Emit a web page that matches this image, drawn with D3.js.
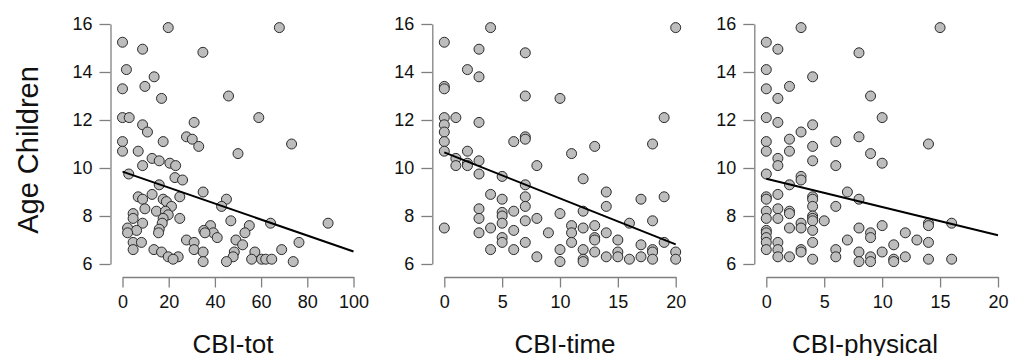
<!DOCTYPE html>
<html>
<head>
<meta charset="utf-8">
<script src="https://cdn.jsdelivr.net/npm/d3@7"></script>
<style>
  body { margin: 0; background: #fff; }
  svg text { font-family: "Liberation Sans", Arial, Helvetica, sans-serif; fill: #111; }
</style>
</head>
<body>
<div id="chart-holder"></div>
<script>
// y ticks shared by all panels
var yTicks = [6, 8, 10, 12, 14, 16];

// CBI-tot panel
var totX = [19.8, 67.9, 0, 8.7, 34.8, 1.7, 13.7, 9.7, 0, 45.9, 16.9, 0, 2.9, 59, 31, 8.7, 10.8, 27.7, 30.2, 17.6,
  0, 33, 73.2, 0, 6.8, 50, 12.8, 15.9, 20.5, 23, 8.7, 2.7, 22.7, 26, 15.9, 34.9, 12.8, 6.8, 24.8, 45,
  8.7, 17.6, 19, 42.9, 21.2, 9.7, 14.7, 18.6, 4.6, 19.8, 17.6, 4.6, 24.8, 46.9, 64.1, 89, 8.7, 17.2, 38.1, 54.9,
  2.2, 15.9, 35.2, 6.1, 39.3, 53, 2.2, 15.6, 35.7, 41, 49.1, 27.7, 31, 76.4, 4.6, 8.2, 52, 31, 68.9, 4.6,
  13.6, 34.9, 48.4, 57.3, 16.9, 19.8, 24.1, 47.9, 21.9, 55.9, 60.2, 62, 64.6, 34.9, 45, 73.9];
var totY = [15.85, 15.85, 15.24, 14.95, 14.82, 14.1, 13.8, 13.4, 13.3, 13.0, 12.9, 12.1, 12.1, 12.1, 11.9, 11.8, 11.5, 11.3, 11.2, 11.1,
  11.1, 10.9, 11.0, 10.7, 10.7, 10.6, 10.4, 10.3, 10.2, 10.1, 10.1, 9.75, 9.6, 9.5, 9.3, 9.0, 8.9, 8.8, 8.8, 8.7,
  8.7, 8.7, 8.6, 8.4, 8.4, 8.3, 8.2, 8.2, 8.1, 8.05, 7.9, 7.9, 7.9, 7.8, 7.7, 7.7, 7.7, 7.7, 7.6, 7.6,
  7.5, 7.45, 7.4, 7.4, 7.3, 7.3, 7.3, 7.3, 7.3, 7.1, 7.0, 7.0, 6.9, 6.9, 6.9, 6.9, 6.8, 6.6, 6.6, 6.6,
  6.6, 6.5, 6.5, 6.5, 6.5, 6.3, 6.3, 6.3, 6.2, 6.2, 6.2, 6.2, 6.2, 6.1, 6.1, 6.1];

// CBI-time panel
var timeX = [4, 20, 0, 3, 7, 2, 3, 0, 0, 7, 10, 0, 1, 19, 3, 0, 0, 7, 7, 6,
  0, 13, 18, 0, 2, 11, 1, 3, 2, 8, 1, 2, 3, 5, 12, 7, 14, 4, 19, 7,
  17, 5, 14, 7, 3, 6, 12, 5, 10, 5, 3, 8, 18, 7, 16, 5, 11, 13, 0, 4,
  12, 6, 3, 9, 11, 14, 13, 5, 13, 15, 5, 7, 11, 19, 17, 18, 4, 6, 10, 12,
  20, 13, 15, 18, 8, 14, 15, 17, 12, 16, 18, 20, 10, 12];
var timeY = [15.85, 15.85, 15.24, 14.95, 14.8, 14.1, 13.8, 13.4, 13.3, 13.0, 12.9, 12.1, 12.1, 12.1, 11.9, 11.8, 11.5, 11.3, 11.2, 11.1,
  11.1, 10.9, 11.0, 10.7, 10.7, 10.6, 10.4, 10.3, 10.2, 10.1, 10.1, 10.1, 9.75, 9.65, 9.55, 9.3, 9.0, 8.9, 8.8, 8.8,
  8.7, 8.7, 8.4, 8.4, 8.3, 8.2, 8.2, 8.15, 8.1, 8.0, 7.9, 7.9, 7.8, 7.8, 7.7, 7.7, 7.6, 7.6, 7.5, 7.5,
  7.5, 7.4, 7.3, 7.3, 7.3, 7.3, 7.1, 7.1, 7.0, 7.0, 6.9, 6.9, 6.9, 6.9, 6.8, 6.6, 6.6, 6.6, 6.6, 6.6,
  6.5, 6.5, 6.5, 6.5, 6.3, 6.3, 6.3, 6.3, 6.2, 6.2, 6.2, 6.2, 6.1, 6.1];

// CBI-physical panel
var physX = [3, 15, 0, 1, 8, 0, 4, 2, 0, 9, 1, 0, 10, 1, 4, 3, 8, 2, 6, 0,
  4, 14, 0, 2, 9, 1, 4, 10, 1, 6, 0, 3, 3, 2, 7, 1, 0, 4, 8, 0,
  4, 4, 6, 1, 2, 0, 2, 4, 0, 1, 4, 5, 4, 14, 16, 3, 10, 14, 2, 3,
  8, 0, 4, 0, 9, 12, 0, 9, 7, 13, 0, 1, 4, 14, 11, 0, 1, 3, 6, 3,
  8, 10, 6, 1, 2, 9, 12, 4, 14, 16, 11, 8, 9, 11];
var physY = [15.85, 15.85, 15.24, 14.95, 14.8, 14.1, 13.8, 13.4, 13.3, 13.0, 12.9, 12.1, 12.1, 11.9, 11.8, 11.5, 11.3, 11.2, 11.1, 11.1,
  10.9, 11.0, 10.7, 10.7, 10.6, 10.4, 10.3, 10.2, 10.1, 10.1, 9.75, 9.65, 9.5, 9.3, 9.0, 8.9, 8.8, 8.8, 8.7, 8.7,
  8.7, 8.4, 8.4, 8.3, 8.2, 8.2, 8.1, 8.0, 7.9, 7.9, 7.9, 7.8, 7.8, 7.7, 7.7, 7.7, 7.6, 7.6, 7.5, 7.5,
  7.5, 7.4, 7.4, 7.3, 7.3, 7.3, 7.1, 7.1, 7.0, 7.0, 6.9, 6.9, 6.9, 6.9, 6.8, 6.6, 6.6, 6.6, 6.6, 6.5,
  6.5, 6.5, 6.3, 6.3, 6.3, 6.3, 6.3, 6.2, 6.2, 6.2, 6.2, 6.1, 6.1, 6.1];

// fitted lines: end points (x, age)
var totLineX = [0, 100], totLineY = [9.85, 6.52];
var timeLineX = [0, 20], timeLineY = [10.65, 6.82];
var physLineX = [0, 20], physLineY = [9.55, 7.2];

var totTicks = [0, 20, 40, 60, 80, 100];
var smallTicks = [0, 5, 10, 15, 20];

var panels = [
  { title: "CBI-tot", xs: totX, ys: totY, lx: totLineX, ly: totLineY, domain: [0, 100], ticks: totTicks, range: [122.5, 353.5], titleX: 233 },
  { title: "CBI-time", xs: timeX, ys: timeY, lx: timeLineX, ly: timeLineY, domain: [0, 20], ticks: smallTicks, range: [444.3, 675.7], titleX: 565 },
  { title: "CBI-physical", xs: physX, ys: physY, lx: physLineX, ly: physLineY, domain: [0, 20], ticks: smallTicks, range: [766.3, 998], titleX: 865 }
];

var width = 1017, height = 356;
var svg = d3.select("#chart-holder").append("svg")
  .attr("width", width)
  .attr("height", height);

var y = d3.scaleLinear().domain([6, 16]).range([264, 24]);
var axisColor = "#808080";

panels.forEach(function (p) {
  var x = d3.scaleLinear().domain(p.domain).range(p.range);
  var g = svg.append("g");

  // y axis, drawn a bit left of x = 0 like R does
  var yAxis = g.append("g")
    .attr("transform", "translate(" + (p.range[0] - 12) + ",0)")
    .call(d3.axisLeft(y).tickValues(yTicks).tickSize(11).tickPadding(7).tickSizeOuter(0));
  yAxis.select(".domain").attr("stroke", axisColor).attr("stroke-width", 1.3);
  yAxis.selectAll(".tick line").attr("stroke", axisColor).attr("stroke-width", 1.3);
  yAxis.selectAll(".tick text").attr("font-size", 18).style("fill", "#111")
    .attr("font-family", "Liberation Sans, Arial, sans-serif");

  // x axis below the plot
  var xAxis = g.append("g")
    .attr("transform", "translate(0,277)")
    .call(d3.axisBottom(x).tickValues(p.ticks).tickSize(10.5).tickPadding(8).tickSizeOuter(0));
  xAxis.select(".domain").attr("stroke", axisColor).attr("stroke-width", 1.3);
  xAxis.selectAll(".tick line").attr("stroke", axisColor).attr("stroke-width", 1.3);
  xAxis.selectAll(".tick text").attr("font-size", 18).style("fill", "#111")
    .attr("font-family", "Liberation Sans, Arial, sans-serif");

  // points
  g.selectAll("circle")
    .data(p.xs.map(function (v, i) { return { x: v, y: p.ys[i] }; }))
    .enter()
    .append("circle")
    .attr("cx", function (d) { return x(d.x); })
    .attr("cy", function (d) { return y(d.y); })
    .attr("r", 5)
    .attr("fill", "#bdbdbd")
    .attr("stroke", "#2a2a2a")
    .attr("stroke-width", 1);

  // regression line
  var line = d3.line()
    .x(function (d) { return x(d[0]); })
    .y(function (d) { return y(d[1]); });
  g.append("path")
    .datum(p.lx.map(function (v, i) { return [v, p.ly[i]]; }))
    .attr("d", line)
    .attr("fill", "none")
    .attr("stroke", "#000")
    .attr("stroke-width", 2);

  g.append("text")
    .attr("x", p.titleX)
    .attr("y", 353)
    .attr("text-anchor", "middle")
    .attr("font-size", 26)
    .text(p.title);
});

svg.append("text")
  .attr("transform", "translate(38,150) rotate(-90)")
  .attr("text-anchor", "middle")
  .attr("font-size", 29)
  .text("Age Children");
</script>
</body>
</html>
